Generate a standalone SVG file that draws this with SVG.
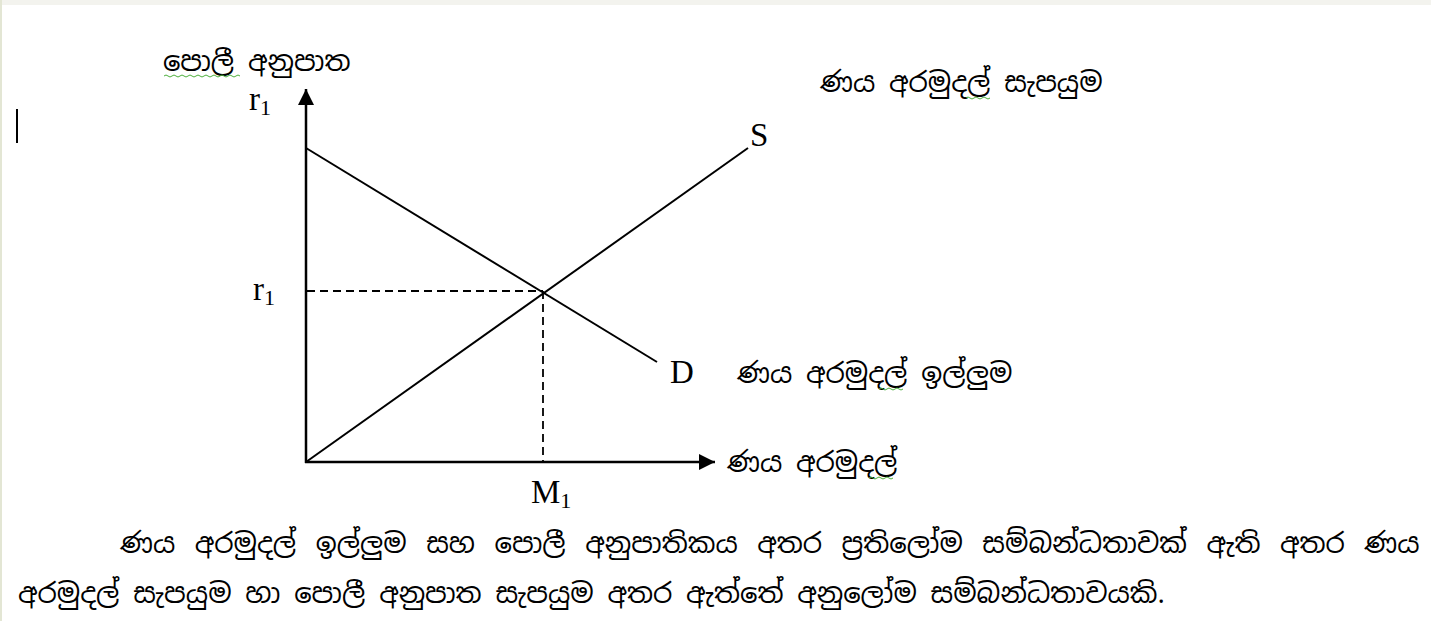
<svg xmlns="http://www.w3.org/2000/svg" width="1431" height="621" viewBox="0 0 1431 621">
<style>
.ax{stroke:#000;stroke-width:2.5;fill:none}
.ln{stroke:#000;stroke-width:2;fill:none}
.ds{stroke:#000;stroke-width:1.8;fill:none;stroke-dasharray:8 5}
.lat{font-family:"Liberation Serif","Times New Roman",serif;font-size:33px;fill:#000}
.sub{font-size:22px}
.si{font-family:"Noto Sans Sinhala","Iskoola Pota","Noto Serif Sinhala",sans-serif;font-size:27.5px;fill:#000}
.sq{stroke:#4caf3c;stroke-width:1;fill:none}
</style>
<defs>
<marker id="ah" viewBox="0 0 10 10" refX="10" refY="5" markerWidth="16" markerHeight="16" markerUnits="userSpaceOnUse" orient="auto">
<path d="M0,0 L10,5 L0,10 Z" fill="#000"/>
</marker>
</defs>
<rect width="1431" height="621" fill="#fff"/>
<rect x="0" y="0" width="1431" height="5" fill="#f3f3ee"/>
<rect x="0" y="0" width="2" height="621" fill="#e3e6d4"/>
<line x1="17" y1="109" x2="17" y2="143" stroke="#000" stroke-width="2"/>

<g id="connectors">
<line class="ax" x1="306" y1="463" x2="306" y2="89" marker-end="url(#ah)"/>
<line class="ax" x1="305" y1="462" x2="715" y2="462" marker-end="url(#ah)"/>
<line id="demand" class="ln" x1="306" y1="148" x2="657" y2="362"/>
<line id="supply" class="ln" x1="306" y1="462" x2="748" y2="148"/>
<line class="ds" x1="307" y1="291" x2="543" y2="291"/>
<line class="ds" x1="543" y1="291" x2="543" y2="461"/>
</g>

<g id="yaxis-label">
<text class="si" x="163" y="71">පොලී අනුපාත</text>
<path class="sq" d="M164,76 q2,-2 4,0 t4,0 t4,0 t4,0 t4,0 t4,0 t4,0 t4,0 t4,0 t4,0 t4,0 t4,0 t4,0 t4,0 t4,0 t4,0 t4,0 t4,0 t4,0"/>
<text class="lat" x="249" y="110">r<tspan class="sub" dy="5">1</tspan></text>
</g>
<g id="r1-label"><text class="lat" x="253" y="300">r<tspan class="sub" dy="5">1</tspan></text></g>
<g id="m1-label"><text class="lat" x="531" y="503">M<tspan class="sub" dy="5">1</tspan></text></g>
<g id="S-label"><text class="lat" x="750" y="146">S</text></g>
<g id="D-label"><text class="lat" x="670" y="383">D</text></g>
<g id="supply-label"><text class="si" x="820" y="92">ණය අරමුදල් සැපයුම</text>
<path class="sq" d="M966,98 q2,-2 4,0 t4,0 t4,0 t4,0 t4,0 t4,0"/></g>
<g id="demand-label"><text class="si" x="737" y="383">ණය අරමුදල් ඉල්ලුම</text>
<path class="sq" d="M879,389 q2,-2 4,0 t4,0 t4,0 t4,0 t4,0 t4,0"/></g>
<g id="xaxis-label"><text class="si" x="727" y="472">ණය අරමුදල්</text>
<path class="sq" d="M869,478 q2,-2 4,0 t4,0 t4,0 t4,0 t4,0 t4,0"/></g>

<g id="paragraph">
<text class="si" x="120" y="553" word-spacing="5.7">ණය අරමුදල් ඉල්ලුම සහ පොලී අනුපාතිකය අතර ප්‍රතිලෝම සම්බන්ධතාවක් ඇති අතර ණය</text>
<text class="si" x="18" y="603">අරමුදල් සැපයුම හා පොලී අනුපාත සැපයුම අතර ඇත්තේ අනුලෝම සම්බන්ධතාවයකි.</text>
</g>
</svg>
